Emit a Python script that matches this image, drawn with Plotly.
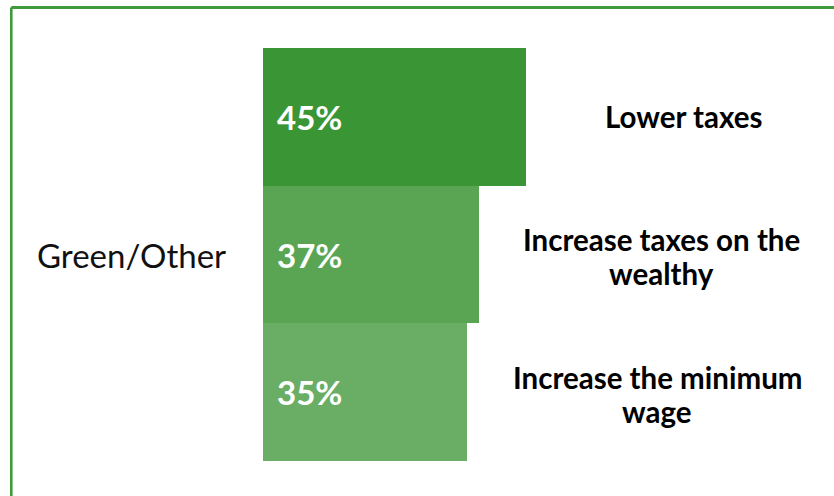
import plotly.graph_objects as go

W, H = 834, 496

category = "Green/Other"
options = ["Lower taxes", "Increase taxes on the<br>wealthy", "Increase the minimum<br>wage"]
values = [45, 37, 35]
pct_labels = ["45%", "37%", "35%"]
bar_colors = ["#3a9535", "#59a553", "#6aae66"]
label_centers_px = [683.5, 661, 657]

FONT = "Lato"

# pixel geometry
x0_px = 263
px_per_unit = 5.835
bar_top_px, bar_bot_px = 48, 461
line_pitch = 34

fig = go.Figure()
fig.add_trace(go.Bar(
    x=values, y=list(range(len(values))), orientation="h",
    marker=dict(color=bar_colors, line=dict(width=0)),
    width=1, hoverinfo="skip",
))

annotations = []
for i, (v, t) in enumerate(zip(values, pct_labels)):
    annotations.append(dict(x=0, y=i, xref="x", yref="y", text="<b>%s</b>" % t,
                            showarrow=False, xanchor="left", yanchor="middle",
                            xshift=12, yshift=0,
                            font=dict(family=FONT, size=33, color="white")))
for i, (lab, cx) in enumerate(zip(options, label_centers_px)):
    lines = lab.split("<br>")
    n = len(lines)
    for j, ln in enumerate(lines):
        off = (j - (n - 1) / 2) * line_pitch
        annotations.append(dict(x=cx / W, y=i, xref="paper", yref="y", text="<b>%s</b>" % ln,
                                showarrow=False, xanchor="center", yanchor="middle",
                                yshift=-off - (2 if n > 1 else 0),
                                font=dict(family=FONT, size=29.5, color="black")))
annotations.append(dict(x=131 / W, y=1, xref="paper", yref="y", text=category,
                        showarrow=False, xanchor="center", yanchor="middle",
                        font=dict(family=FONT, size=33, color="#111111")))

shapes = [
    dict(type="line", xref="paper", yref="paper", x0=11.3 / W, x1=1.01,
         y0=1 - 7.5 / H, y1=1 - 7.5 / H, line=dict(color="#3f9b3a", width=3)),
    dict(type="line", xref="paper", yref="paper", x0=11.3 / W, x1=11.3 / W,
         y0=1 - 7.5 / H, y1=-0.01, line=dict(color="#3f9b3a", width=2.6)),
]

fig.update_layout(
    width=W, height=H,
    margin=dict(l=0, r=0, t=0, b=0),
    paper_bgcolor="white", plot_bgcolor="white",
    showlegend=False, bargap=0,
    xaxis=dict(domain=[x0_px / W, 1], range=[0, (W - x0_px) / px_per_unit],
               visible=False, fixedrange=True),
    yaxis=dict(domain=[1 - bar_bot_px / H, 1 - bar_top_px / H], range=[2.5, -0.5],
               visible=False, fixedrange=True),
    annotations=annotations, shapes=shapes,
)

fig.write_html("out.html", config={"displayModeBar": False, "staticPlot": True},
               post_script="document.body.style.margin='0';document.body.style.overflow='hidden';")
